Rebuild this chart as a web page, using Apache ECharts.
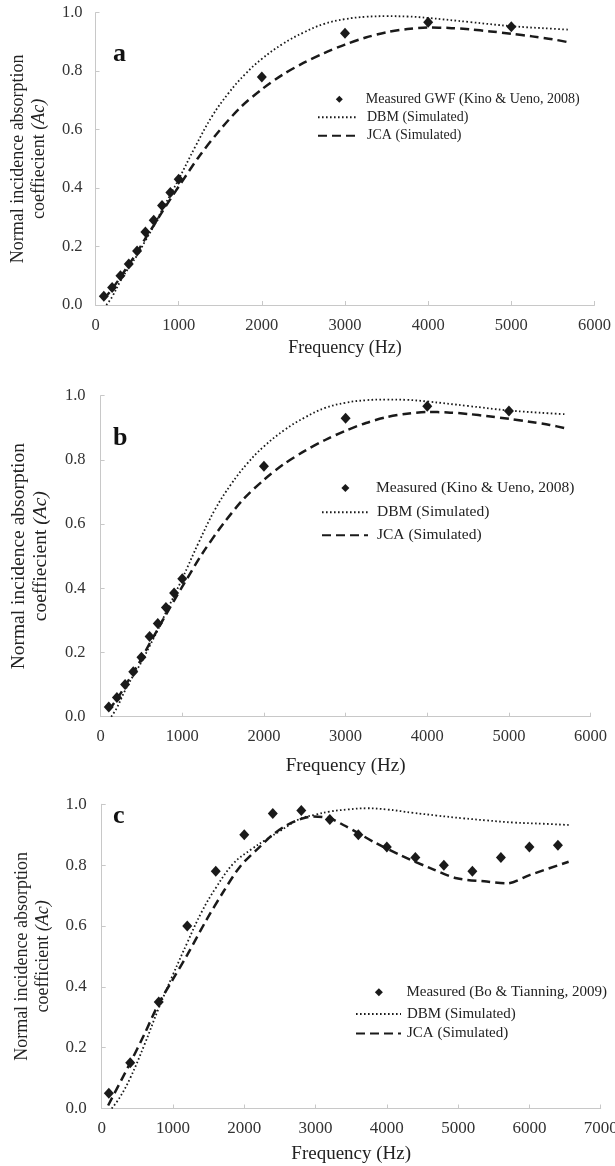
<!DOCTYPE html>
<html>
<head>
<meta charset="utf-8">
<script src="https://cdn.jsdelivr.net/npm/echarts@6/dist/echarts.min.js"></script>
<style>
  html, body { margin: 0; padding: 0; background: #fff; }
  #chart { width: 615px; height: 1166px; }
</style>
</head>
<body>
<div id="chart"></div>
<script>
  // panels a and b: GWF sample, Kino & Ueno 2008
  var measAbFreq = [100, 200, 300, 400, 500, 600, 700, 800, 900, 1000, 2000, 3000, 4000, 5000]
  var measAbVal = [0.03, 0.06, 0.10, 0.14, 0.185, 0.25, 0.29, 0.34, 0.385, 0.43, 0.78, 0.93, 0.967, 0.952]
  var dbmAbFreq = [130, 200, 300, 400, 500, 600, 700, 800, 900, 1000, 1200, 1400, 1600, 1800, 2000, 2250, 2500, 2750, 3000, 3250, 3500, 3750, 4000, 4500, 5000, 5500, 5700]
  var dbmAbVal = [0, 0.028, 0.082, 0.128, 0.17, 0.22, 0.27, 0.325, 0.377, 0.43, 0.542, 0.645, 0.725, 0.79, 0.842, 0.893, 0.932, 0.962, 0.978, 0.986, 0.988, 0.987, 0.982, 0.968, 0.954, 0.945, 0.942]
  var jcaAbFreq = [100, 200, 300, 400, 500, 600, 700, 800, 900, 1000, 1250, 1500, 1750, 2000, 2250, 2500, 2750, 3000, 3250, 3500, 3750, 4000, 4250, 4500, 4750, 5000, 5250, 5500, 5700]
  var jcaAbVal = [0.02, 0.055, 0.095, 0.138, 0.18, 0.228, 0.272, 0.318, 0.362, 0.405, 0.51, 0.60, 0.678, 0.738, 0.788, 0.828, 0.862, 0.891, 0.915, 0.933, 0.944, 0.949, 0.948, 0.943, 0.936, 0.928, 0.919, 0.909, 0.898]

  // panel c: Bo & Tianning 2009
  var measCFreq = [100, 400, 800, 1200, 1600, 2000, 2400, 2800, 3200, 3600, 4000, 4400, 4800, 5200, 5600, 6000, 6400]
  var measCVal = [0.05, 0.15, 0.35, 0.60, 0.78, 0.90, 0.97, 0.98, 0.95, 0.90, 0.86, 0.825, 0.80, 0.78, 0.825, 0.86, 0.865]
  var dbmCFreq = [140, 250, 400, 600, 800, 1000, 1200, 1400, 1600, 1850, 2100, 2300, 2500, 2780, 3000, 3200, 3450, 3720, 4000, 4370, 4700, 5070, 5400, 5780, 6200, 6550]
  var dbmCVal = [0, 0.035, 0.1, 0.21, 0.33, 0.44, 0.545, 0.645, 0.725, 0.806, 0.852, 0.883, 0.912, 0.952, 0.966, 0.976, 0.983, 0.987, 0.983, 0.972, 0.963, 0.954, 0.947, 0.94, 0.936, 0.932]
  var jcaCFreq = [90, 400, 600, 800, 1000, 1200, 1470, 1700, 1940, 2220, 2400, 2600, 2800, 2970, 3200, 3390, 3600, 3810, 4190, 4610, 4980, 5400, 5680, 6010, 6550]
  var jcaCVal = [0.01, 0.15, 0.245, 0.345, 0.425, 0.505, 0.62, 0.71, 0.795, 0.861, 0.9, 0.932, 0.952, 0.96, 0.954, 0.932, 0.905, 0.877, 0.833, 0.79, 0.757, 0.746, 0.74, 0.768, 0.811]

  var serif = '"Liberation Serif", "Times New Roman", serif'
  var ink = '#1a1a1a'
  var axisGrey = '#c8c8c8'

  function zip (xs, ys) {
    return xs.map(function (x, i) { return [x, ys[i]] })
  }

  function xAxisOf (idx, max, size, margin, gap, nameSize) {
    return {
      type: 'value',
      gridIndex: idx,
      min: 0,
      max: max,
      interval: 1000,
      name: 'Frequency (Hz)',
      nameLocation: 'middle',
      nameGap: gap,
      nameTextStyle: { fontFamily: serif, fontSize: nameSize, color: '#222' },
      axisLine: { show: true, lineStyle: { color: axisGrey, width: 1 } },
      axisTick: { show: true, inside: true, length: 4, lineStyle: { color: axisGrey } },
      axisLabel: {
        fontFamily: serif, fontSize: size, color: '#333', margin: margin,
        formatter: function (v) { return String(v) }
      },
      splitLine: { show: false }
    }
  }

  function yAxisOf (idx, word, size, margin, gap, nameSize) {
    return {
      type: 'value',
      gridIndex: idx,
      min: 0,
      max: 1,
      interval: 0.2,
      name: 'Normal incidence absorption\n' + word + ' {it|(Ac)}',
      nameLocation: 'middle',
      nameGap: gap,
      nameTextStyle: {
        fontFamily: serif, fontSize: nameSize, color: '#222', lineHeight: nameSize + 3,
        rich: { it: { fontFamily: serif, fontSize: nameSize, fontStyle: 'italic', color: '#222' } }
      },
      axisLine: { show: true, lineStyle: { color: axisGrey, width: 1 } },
      axisTick: { show: true, inside: true, length: 4, lineStyle: { color: axisGrey } },
      axisLabel: {
        fontFamily: serif, fontSize: size, color: '#333', margin: margin,
        formatter: function (v) { return v.toFixed(1) }
      },
      splitLine: { show: false }
    }
  }

  function measured (name, idx, xs, ys) {
    return {
      name: name, type: 'scatter', xAxisIndex: idx, yAxisIndex: idx,
      symbol: 'diamond', symbolSize: [10, 11],
      itemStyle: { color: ink, opacity: 1 },
      data: zip(xs, ys)
    }
  }
  function dbm (idx, xs, ys) {
    return {
      name: 'DBM (Simulated)', type: 'line', xAxisIndex: idx, yAxisIndex: idx,
      smooth: 0.4, symbol: 'none',
      lineStyle: { color: ink, width: 1.8, type: [1.6, 2.4] },
      itemStyle: { color: ink },
      data: zip(xs, ys)
    }
  }
  function jca (idx, xs, ys) {
    return {
      name: 'JCA (Simulated)', type: 'line', xAxisIndex: idx, yAxisIndex: idx,
      smooth: 0.3, symbol: 'none',
      lineStyle: { color: ink, width: 2.5, type: [9, 5] },
      itemStyle: { color: ink },
      data: zip(xs, ys)
    }
  }

  // legend for the measured points: a small diamond only
  function pointLegend (name, left, top, sz, size, pad) {
    return {
      data: [{ name: name, icon: 'diamond' }], orient: 'vertical', left: left, top: top, padding: 0,
      itemWidth: sz, itemHeight: sz, selectedMode: false,
      itemStyle: { color: ink, opacity: 1 },
      textStyle: { fontFamily: serif, fontSize: size, color: '#222', lineHeight: size + 2, padding: [0, 0, 0, pad] }
    }
  }
  // legend for the two curves: line only, symbol hidden
  function lineLegend (left, top, w, gap, size, pad) {
    return {
      data: ['DBM (Simulated)', 'JCA (Simulated)'], orient: 'vertical', left: left, top: top, padding: 0,
      itemWidth: w, itemHeight: 14, itemGap: gap, selectedMode: false,
      itemStyle: { color: 'rgba(0,0,0,0)', borderColor: 'rgba(0,0,0,0)', borderWidth: 0 },
      textStyle: { fontFamily: serif, fontSize: size, color: '#222', lineHeight: size + 2, padding: [0, 0, 0, pad] }
    }
  }

  function letter (t, x, y) {
    return {
      type: 'text', left: x, top: y,
      style: { text: t, fontFamily: serif, fontSize: 26, fontWeight: 'bold', fill: '#111' }
    }
  }

  var chart = echarts.init(document.getElementById('chart'), null, { renderer: 'canvas' })
  chart.setOption({
    backgroundColor: '#fff',
    animation: false,
    grid: [
      { left: 95.5, top: 12.7, width: 499, height: 292.3, outerBoundsMode: 'none' },
      { left: 100.6, top: 395.7, width: 490, height: 321, outerBoundsMode: 'none' },
      { left: 101.7, top: 804.3, width: 499, height: 304.2, outerBoundsMode: 'none' }
    ],
    xAxis: [
      xAxisOf(0, 6000, 16.5, 12, 34, 18),
      xAxisOf(1, 6000, 16.5, 11, 40, 19),
      xAxisOf(2, 7000, 17, 12, 36, 19)
    ],
    yAxis: [
      yAxisOf(0, 'coeffiecient', 16.5, 13, 46, 18),
      yAxisOf(1, 'coeffiecient', 16.5, 15, 48, 19.5),
      yAxisOf(2, 'coefficient', 17, 15, 48, 18)
    ],
    legend: [
      pointLegend('Measured GWF (Kino & Ueno, 2008)', 335.8, 91.3, 7, 14, 18),
      lineLegend(317, 109.3, 38, 2.4, 14, 6),
      pointLegend('Measured (Kino & Ueno, 2008)', 341.4, 479.3, 8, 15.5, 21.6),
      lineLegend(321, 503.5, 46, 5.5, 15.5, 4),
      pointLegend('Measured (Bo & Tianning, 2009)', 374.9, 983.8, 8, 15, 18.5),
      lineLegend(355, 1005.5, 45, 2.5, 15, 1)
    ],
    graphic: [
      letter('a', 113, 41),
      letter('b', 113, 425),
      letter('c', 113, 803)
    ],
    series: [
      measured('Measured GWF (Kino & Ueno, 2008)', 0, measAbFreq, measAbVal),
      dbm(0, dbmAbFreq, dbmAbVal),
      jca(0, jcaAbFreq, jcaAbVal),
      measured('Measured (Kino & Ueno, 2008)', 1, measAbFreq, measAbVal),
      dbm(1, dbmAbFreq, dbmAbVal),
      jca(1, jcaAbFreq, jcaAbVal),
      measured('Measured (Bo & Tianning, 2009)', 2, measCFreq, measCVal),
      dbm(2, dbmCFreq, dbmCVal),
      jca(2, jcaCFreq, jcaCVal)
    ]
  })
</script>
</body>
</html>
